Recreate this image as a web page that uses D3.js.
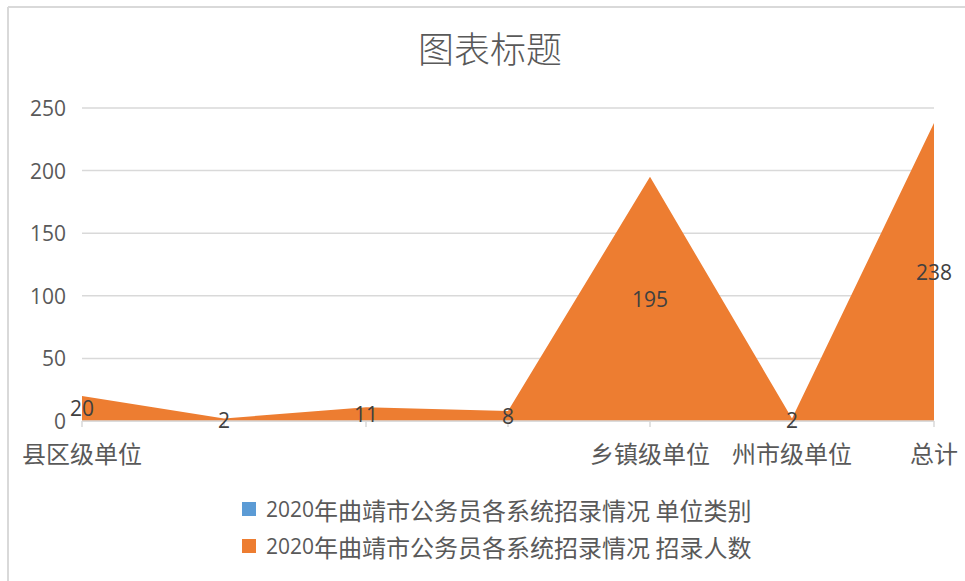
<!DOCTYPE html>
<html>
<head>
<meta charset="utf-8">
<script src="https://cdn.jsdelivr.net/npm/d3@7"></script>
<style>
  body { margin: 0; background: #fff; }
  svg { display: block; }
</style>
</head>
<body>
<div id="chart"></div>
<script>
// values
const categories = ["县区级单位", "", "", "", "乡镇级单位", "州市级单位", "总计"]
const recruits = [20, 2, 11, 8, 195, 2, 238]
const yTicks = [0, 50, 100, 150, 200, 250]
const chartTitle = "图表标题"
const legendLabels = [
  "2020年曲靖市公务员各系统招录情况 单位类别",
  "2020年曲靖市公务员各系统招录情况 招录人数"
]
const legendColors = ["#5B9BD5", "#ED7D31"]

const width = 965, height = 581
const numFont = "'Open Sans', 'Noto Sans CJK SC', sans-serif"
const cjkFont = "'Noto Sans CJK SC', 'Open Sans', sans-serif"
const textColor = "#595959"

const svg = d3.select("#chart").append("svg")
  .attr("width", width)
  .attr("height", height)

// chart border (only top and left show in the crop)
svg.append("line").attr("x1", 8).attr("x2", width).attr("y1", 7).attr("y2", 7)
  .attr("stroke", "#d9d9d9").attr("stroke-width", 2)
svg.append("line").attr("x1", 8).attr("x2", 8).attr("y1", 7).attr("y2", height)
  .attr("stroke", "#d9d9d9").attr("stroke-width", 2)

const x = d3.scalePoint()
  .domain(d3.range(categories.length))
  .range([82, 934])

const y = d3.scaleLinear()
  .domain([0, 250])
  .range([421, 108])

// title
svg.append("text")
  .attr("x", 490)
  .attr("y", 47)
  .attr("text-anchor", "middle")
  .attr("dominant-baseline", "central")
  .style("font-family", cjkFont)
  .style("font-size", "36px")
  .style("font-weight", 300)
  .style("fill", textColor)
  .text(chartTitle)

// gridlines
svg.append("g")
  .selectAll("line")
  .data(yTicks)
  .join("line")
  .attr("x1", x(0))
  .attr("x2", x(categories.length - 1))
  .attr("y1", d => y(d))
  .attr("y2", d => y(d))
  .attr("stroke", "#d9d9d9")
  .attr("stroke-width", 1.5)

// y labels
svg.append("g")
  .selectAll("text")
  .data(yTicks)
  .join("text")
  .attr("x", 66)
  .attr("y", d => y(d))
  .attr("text-anchor", "end")
  .attr("dominant-baseline", "central")
  .style("font-family", numFont)
  .style("font-size", "21px")
  .style("fill", textColor)
  .text(d => d)

// area
const area = d3.area()
  .x((d, i) => x(i))
  .y0(y(0))
  .y1(d => y(d))

svg.append("path")
  .datum(recruits)
  .attr("d", area)
  .attr("fill", "#ED7D31")

// x axis line + ticks
svg.append("line")
  .attr("x1", x(0)).attr("x2", x(categories.length - 1))
  .attr("y1", y(0)).attr("y2", y(0))
  .attr("stroke", "#d9d9d9").attr("stroke-width", 1.5)

svg.append("g")
  .selectAll("line")
  .data(categories)
  .join("line")
  .attr("x1", (d, i) => x(i))
  .attr("x2", (d, i) => x(i))
  .attr("y1", y(0))
  .attr("y2", y(0) + 6)
  .attr("stroke", "#d9d9d9")
  .attr("stroke-width", 1.5)

svg.append("g")
  .selectAll("text")
  .data(categories)
  .join("text")
  .attr("x", (d, i) => x(i))
  .attr("y", 452)
  .attr("text-anchor", "middle")
  .attr("dominant-baseline", "central")
  .style("font-family", cjkFont)
  .style("font-size", "24px")
  .style("fill", textColor)
  .text(d => d)

// data labels sit in the middle of the area
svg.append("g")
  .selectAll("text")
  .data(recruits)
  .join("text")
  .attr("x", (d, i) => x(i))
  .attr("y", d => y(d / 2))
  .attr("text-anchor", "middle")
  .attr("dominant-baseline", "central")
  .style("font-family", numFont)
  .style("font-size", "21px")
  .style("fill", "#404040")
  .text(d => d)

// legend
const legend = svg.append("g")
  .selectAll("g")
  .data(legendLabels)
  .join("g")
  .attr("transform", (d, i) => `translate(242, ${509 + i * 37})`)

legend.append("rect")
  .attr("x", 0)
  .attr("y", -7)
  .attr("width", 14)
  .attr("height", 14)
  .attr("fill", (d, i) => legendColors[i])

const legendText = legend.append("text")
  .attr("x", 24)
  .attr("y", 0)
  .attr("dominant-baseline", "central")
  .style("fill", textColor)

legendText.append("tspan")
  .style("font-family", numFont)
  .style("font-size", "21px")
  .text(d => d.match(/^\d+/)[0])

legendText.append("tspan")
  .style("font-family", cjkFont)
  .style("font-size", "24px")
  .text(d => d.replace(/^\d+/, ""))
</script>
</body>
</html>
